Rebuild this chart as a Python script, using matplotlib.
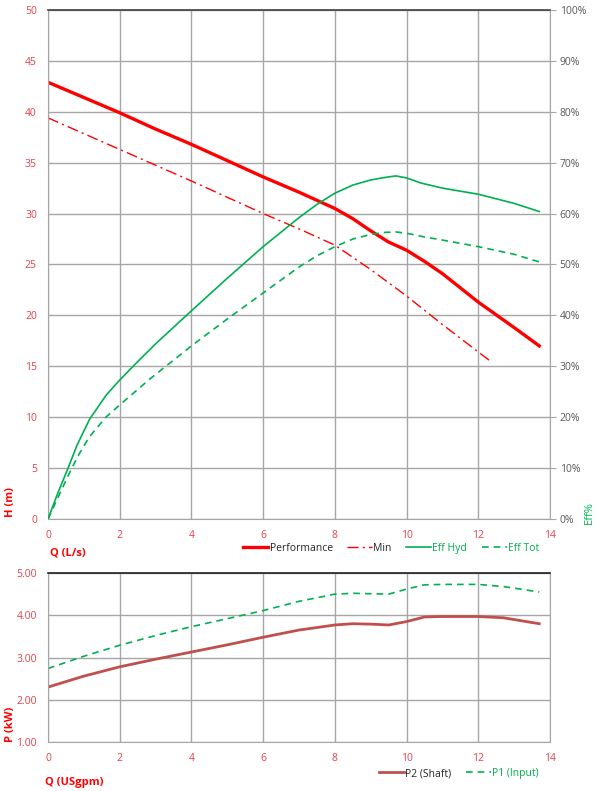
import matplotlib
matplotlib.use("Agg")
import matplotlib.pyplot as plt
from matplotlib.ticker import FuncFormatter

plt.rcParams['font.family'] = ['Open Sans', 'DejaVu Sans']

RED = '#ff0000'
TICKRED = '#e8404a'
GREEN = '#00b050'
DARKRED = '#c0504d'
GRID = '#a6a6a6'

# ---- data ----
perf_q = [0, 1, 2, 3, 4, 5, 6, 7, 8, 8.5, 9, 9.5, 10, 10.5, 11, 12, 13, 13.7]
perf_h = [42.9, 41.4, 39.9, 38.3, 36.8, 35.2, 33.6, 32.1, 30.5, 29.5, 28.3, 27.2, 26.4, 25.3, 24.1, 21.3, 18.8, 17.0]

min_q = [0, 2, 4, 6, 7, 8, 9, 10, 11, 12.3]
min_h = [39.4, 36.3, 33.2, 30.0, 28.5, 26.9, 24.5, 21.9, 19.1, 15.6]

effh_q = [0, 0.28, 0.56, 0.81, 1.16, 1.63, 2, 2.5, 3, 4, 5, 6, 7, 7.5, 8, 8.5, 9, 9.4, 9.7, 10.0, 10.4, 11, 12, 13, 13.7]
effh_v = [0, 5.2, 10, 14.5, 19.6, 24.4, 27.3, 30.9, 34.4, 40.9, 47.3, 53.5, 59.2, 61.8, 64.0, 65.6, 66.6, 67.1, 67.4, 67.0, 66.0, 65.0, 63.8, 62.0, 60.4]

efft_q = [0, 0.33, 0.65, 0.87, 1.16, 1.63, 2, 2.84, 4, 5, 6, 7, 7.5, 8, 8.5, 9, 9.4, 9.7, 10.1, 10.5, 11, 12, 13, 13.7]
efft_v = [0, 5.0, 9.8, 12.8, 16.2, 20.1, 22.4, 27.5, 34.0, 39.3, 44.4, 49.5, 51.7, 53.5, 55.0, 55.9, 56.3, 56.4, 56.0, 55.4, 54.8, 53.5, 52.0, 50.5]

p2_q = [0, 1, 2, 3, 4, 5, 6, 7, 8, 8.5, 9, 9.5, 10, 10.5, 11, 12, 12.7, 13.7]
p2_v = [2.30, 2.56, 2.78, 2.96, 3.13, 3.30, 3.48, 3.65, 3.77, 3.80, 3.79, 3.77, 3.85, 3.96, 3.97, 3.97, 3.94, 3.80]

p1_q = [0, 1, 2, 3, 4, 5, 6, 7, 8, 8.5, 9, 9.5, 10, 10.5, 11, 12, 12.7, 13.7]
p1_v = [2.74, 3.03, 3.29, 3.52, 3.73, 3.92, 4.11, 4.33, 4.50, 4.52, 4.51, 4.50, 4.62, 4.72, 4.73, 4.73, 4.68, 4.55]

x_ticks = [0, 2, 4, 6, 8, 10, 12, 14]
h_ticks = [0, 5, 10, 15, 20, 25, 30, 35, 40, 45, 50]
eff_ticks = [0, 10, 20, 30, 40, 50, 60, 70, 80, 90, 100]
p_ticks = [1.0, 2.0, 3.0, 4.0, 5.0]

fig = plt.figure(figsize=(6.0, 7.91), dpi=100)

# ---- top chart ----
ax = fig.add_axes([0.08, 0.3439, 0.8367, 0.6435])
ax.set_xlim(0, 14)
ax.set_ylim(0, 50)
ax.set_xticks(x_ticks)
ax.set_yticks(h_ticks)
ax.grid(True, color=GRID, linewidth=1.0)
ax.set_axisbelow(True)
ax.tick_params(axis='both', length=0, labelsize=7.5, labelcolor=TICKRED, pad=8)
for s in ['left', 'bottom', 'right']:
    ax.spines[s].set_color(GRID)
ax.spines['top'].set_color('#404040')
ax.spines['top'].set_linewidth(1.2)

l_perf, = ax.plot(perf_q, perf_h, color=RED, lw=2.4, label='Performance')
l_min, = ax.plot(min_q, min_h, color=RED, lw=1.0, linestyle=(0, (8, 3, 1.5, 3)), label='Min')

ax2 = ax.twinx()
ax2.set_ylim(0, 100)
ax2.set_yticks(eff_ticks)
ax2.yaxis.set_major_formatter(FuncFormatter(lambda v, p: f"{int(v)}%"))
ax2.tick_params(axis='y', length=4, color=GRID, labelsize=7.5, labelcolor='#595959', pad=3)
for s in ax2.spines.values():
    s.set_visible(False)
l_eh, = ax2.plot(effh_q, effh_v, color=GREEN, lw=1.2, label='Eff Hyd')
l_et, = ax2.plot(efft_q, efft_v, color=GREEN, lw=1.2, linestyle=(0, (4, 3)), label='Eff Tot')

fig.text(0.018, 0.3464, 'H (m)', rotation=90, color=RED, fontsize=8, fontweight='bold', ha='center', va='bottom')
fig.text(0.083, 0.3015, 'Q (L/s)', color=RED, fontsize=8, fontweight='bold', ha='left', va='center')
fig.text(0.982, 0.337, 'Eff%', rotation=90, color=GREEN, fontsize=8, ha='center', va='bottom')

leg1 = fig.legend(handles=[l_perf, l_min, l_eh, l_et], loc='center', bbox_to_anchor=(0.652, 0.307),
                  ncol=4, frameon=False, fontsize=7.5, handlelength=2.4, handletextpad=0.1, columnspacing=1.4)
for t, c in zip(leg1.get_texts(), ['#262626', '#262626', GREEN, GREEN]):
    t.set_color(c)

# ---- bottom chart ----
bx = fig.add_axes([0.08, 0.0619, 0.8367, 0.2137])
bx.set_xlim(0, 14)
bx.set_ylim(1, 5)
bx.set_xticks(x_ticks)
bx.set_yticks(p_ticks)
bx.yaxis.set_major_formatter(FuncFormatter(lambda v, p: f"{v:.2f}"))
bx.grid(True, color=GRID, linewidth=1.0)
bx.set_axisbelow(True)
bx.tick_params(axis='both', length=0, labelsize=7.5, labelcolor=TICKRED, pad=8)
for s in ['left', 'bottom', 'right']:
    bx.spines[s].set_color(GRID)
bx.spines['top'].set_color('#202020')
bx.spines['top'].set_linewidth(1.2)

l_p2, = bx.plot(p2_q, p2_v, color=DARKRED, lw=2.0, label='P2 (Shaft)')
l_p1, = bx.plot(p1_q, p1_v, color=GREEN, lw=1.2, linestyle=(0, (4, 3)), label='P1 (Input)')

fig.text(0.018, 0.062, 'P (kW)', rotation=90, color=RED, fontsize=8, fontweight='bold', ha='center', va='bottom')
fig.text(0.075, 0.011, 'Q (USgpm)', color=RED, fontsize=8, fontweight='bold', ha='left', va='center')

leg2 = fig.legend(handles=[l_p2, l_p1], loc='center', bbox_to_anchor=(0.765, 0.022),
                  ncol=2, frameon=False, fontsize=7.5, handlelength=2.4, handletextpad=0.1, columnspacing=1.4)
for t, c in zip(leg2.get_texts(), ['#262626', GREEN]):
    t.set_color(c)

fig.savefig('out.png', dpi=100)
